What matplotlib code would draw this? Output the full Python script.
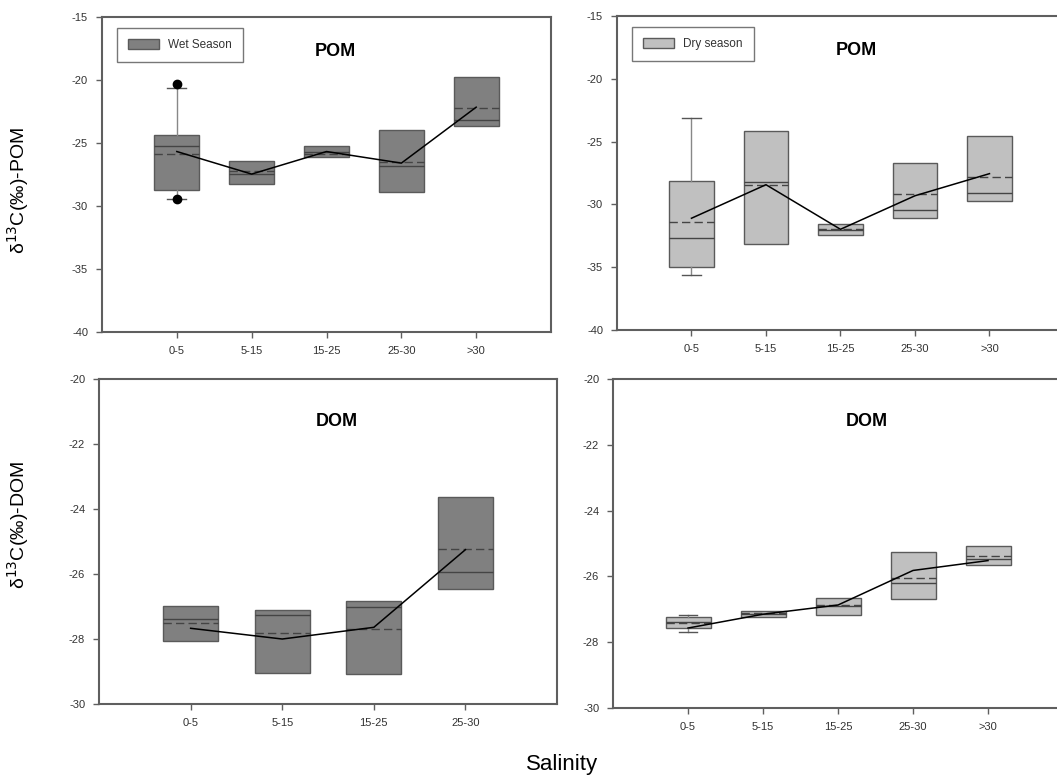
import matplotlib
matplotlib.use("Agg")
import matplotlib.pyplot as plt
from matplotlib.patches import Patch

plt.rcParams['font.family'] = ['Liberation Sans', 'DejaVu Sans']

# salinity classes
sal_top = ['0-5', '5-15', '15-25', '25-30', '>30']
sal_dom_wet = ['0-5', '5-15', '15-25', '25-30']

# box statistics: q1, q3, median, mean, lower whisker, upper whisker (None = no whisker)
pom_wet_q1 = [-28.72, -28.24, -26.15, -28.90, -23.64]
pom_wet_q3 = [-24.36, -26.47, -25.23, -23.96, -19.78]
pom_wet_med = [-25.23, -27.47, -25.70, -26.79, -23.17]
pom_wet_mean = [-25.89, -27.26, -25.85, -26.52, -22.19]
pom_wet_wlo = [-29.43, None, None, None, None]
pom_wet_whi = [-20.66, None, None, None, None]
pom_wet_out = [[-20.31, -29.43], [], [], [], []]
pom_wet_line = [-25.68, -27.47, -25.68, -26.60, -22.16]

pom_dry_q1 = [-34.96, -33.15, -32.43, -31.12, -29.71]
pom_dry_q3 = [-28.11, -24.19, -31.52, -26.70, -24.57]
pom_dry_med = [-32.70, -28.25, -32.03, -30.43, -29.10]
pom_dry_mean = [-31.36, -28.46, -31.92, -29.15, -27.79]
pom_dry_wlo = [-35.58, None, None, None, None]
pom_dry_whi = [-23.08, None, None, None, None]
pom_dry_out = [[], [], [], [], []]
pom_dry_line = [-31.10, -28.43, -31.98, -29.31, -27.55]

dom_wet_q1 = [-28.06, -29.04, -29.08, -26.47]
dom_wet_q3 = [-26.98, -27.11, -26.82, -23.64]
dom_wet_med = [-27.39, -27.26, -27.00, -25.94]
dom_wet_mean = [-27.50, -27.81, -27.70, -25.22]
dom_wet_wlo = [None, None, None, None]
dom_wet_whi = [None, None, None, None]
dom_wet_out = [[], [], [], []]
dom_wet_line = [-27.67, -28.00, -27.64, -25.25]

dom_dry_q1 = [-27.58, -27.22, -27.16, -26.68, -25.64]
dom_dry_q3 = [-27.22, -27.05, -26.66, -25.26, -25.08]
dom_dry_med = [-27.38, -27.15, -26.90, -26.19, -25.48]
dom_dry_mean = [-27.42, -27.12, -26.87, -26.05, -25.38]
dom_dry_wlo = [-27.68, None, None, None, None]
dom_dry_whi = [-27.18, None, None, None, None]
dom_dry_out = [[], [], [], [], []]
dom_dry_line = [-27.57, -27.15, -26.87, -25.82, -25.52]

WET = '#808080'
DRY = '#c0c0c0'
EDGE = '#5a5a5a'
AXC = '#5f5f5f'


def draw_panel(ax, labels, q1, q3, med, mean, wlo, whi, out, line, color,
               nslots, ylim, yticks, title, title_xy, legend=None):
    stats = []
    for i in range(len(labels)):
        stats.append(dict(q1=q1[i], q3=q3[i], med=med[i], mean=mean[i],
                          whislo=wlo[i] if wlo[i] is not None else q1[i],
                          whishi=whi[i] if whi[i] is not None else q3[i],
                          fliers=out[i], label=labels[i]))
    pos = list(range(1, len(labels) + 1))
    art = ax.bxp(stats, positions=pos, widths=0.6, patch_artist=True,
                 showmeans=True, meanline=True, capwidths=0.25,
                 boxprops=dict(facecolor=color, edgecolor=EDGE, linewidth=1),
                 medianprops=dict(color='#444444', linewidth=1),
                 meanprops=dict(color='#444444', linestyle=(0, (6, 3)), linewidth=1),
                 whiskerprops=dict(color='#888888', linewidth=1),
                 capprops=dict(color='#555555', linewidth=1),
                 flierprops=dict(marker='o', markerfacecolor='black',
                                 markeredgecolor='black', markersize=6))
    # hide the whiskers that collapse onto the box edges
    for i in range(len(labels)):
        if wlo[i] is None:
            art['caps'][2 * i].set_visible(False)
            art['whiskers'][2 * i].set_visible(False)
        if whi[i] is None:
            art['caps'][2 * i + 1].set_visible(False)
            art['whiskers'][2 * i + 1].set_visible(False)

    ax.plot(pos, line, color='black', linewidth=1.1, zorder=5)

    ax.set_xlim(0, nslots)
    ax.set_ylim(*ylim)
    ax.set_yticks(yticks)
    ax.set_yticklabels([f'{t:g}' for t in yticks])
    ax.set_xticks(pos)
    ax.set_xticklabels(labels)
    ax.tick_params(direction='out', length=4, width=1, colors=AXC,
                   labelcolor='#333333', labelsize=8, pad=6)
    for s in ax.spines.values():
        s.set_color(AXC)
        s.set_linewidth(1.5)
    ax.text(title_xy[0], title_xy[1], title, transform=ax.transAxes,
            ha='center', va='center', fontsize=13, fontweight='bold')
    if legend:
        h = [Patch(facecolor=color, edgecolor=EDGE, linewidth=1, label=legend)]
        ax.legend(handles=h, loc='upper left', bbox_to_anchor=(0.02, 0.985),
                  fancybox=False, edgecolor='#777777', framealpha=1,
                  fontsize=8.5, handlelength=2.6, handleheight=1.0,
                  borderpad=0.95, labelcolor='#333333')


fig = plt.figure(figsize=(10.57, 7.78), dpi=100)
ax1 = fig.add_axes([0.0965, 0.5733, 0.4248, 0.4049])
ax2 = fig.add_axes([0.5837, 0.5758, 0.4229, 0.4036])
ax3 = fig.add_axes([0.0937, 0.0951, 0.4333, 0.4177])
ax4 = fig.add_axes([0.5800, 0.0900, 0.4257, 0.4229])

draw_panel(ax1, sal_top, pom_wet_q1, pom_wet_q3, pom_wet_med, pom_wet_mean,
           pom_wet_wlo, pom_wet_whi, pom_wet_out, pom_wet_line, WET, 6,
           (-40, -15), [-40, -35, -30, -25, -20, -15], 'POM', (0.52, 0.89),
           legend='Wet Season')
draw_panel(ax2, sal_top, pom_dry_q1, pom_dry_q3, pom_dry_med, pom_dry_mean,
           pom_dry_wlo, pom_dry_whi, pom_dry_out, pom_dry_line, DRY, 6,
           (-40, -15), [-40, -35, -30, -25, -20, -15], 'POM', (0.535, 0.89),
           legend='Dry season')
draw_panel(ax3, sal_dom_wet, dom_wet_q1, dom_wet_q3, dom_wet_med, dom_wet_mean,
           dom_wet_wlo, dom_wet_whi, dom_wet_out, dom_wet_line, WET, 5,
           (-30, -20), [-30, -28, -26, -24, -22, -20], 'DOM', (0.52, 0.87))
draw_panel(ax4, sal_top, dom_dry_q1, dom_dry_q3, dom_dry_med, dom_dry_mean,
           dom_dry_wlo, dom_dry_whi, dom_dry_out, dom_dry_line, DRY, 6,
           (-30, -20), [-30, -28, -26, -24, -22, -20], 'DOM', (0.564, 0.87))

fig.text(0.017, 0.755, r'δ$^{13}$C(‰)-POM', rotation=90, ha='center',
         va='center', fontsize=14)
fig.text(0.017, 0.325, r'δ$^{13}$C(‰)-DOM', rotation=90, ha='center',
         va='center', fontsize=14)
fig.text(0.532, 0.017, 'Salinity', ha='center', va='center', fontsize=16)

fig.savefig('out.png', dpi=100)
